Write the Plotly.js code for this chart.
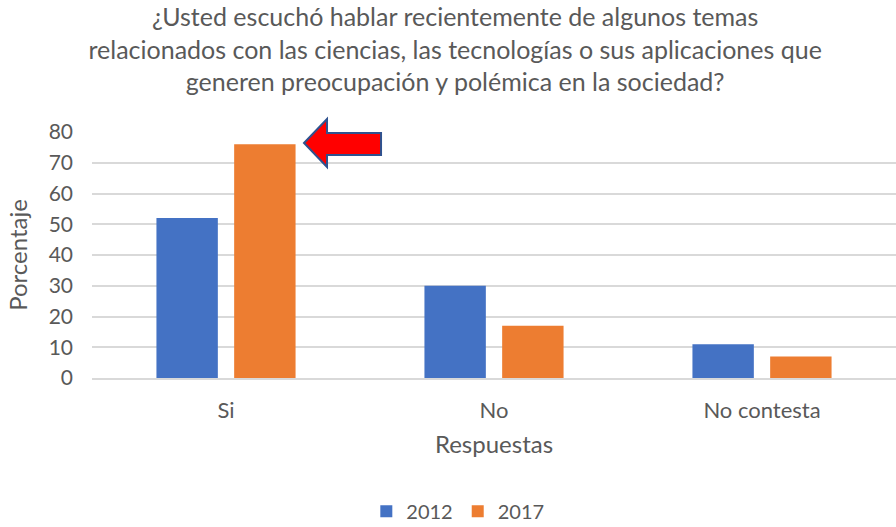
<!DOCTYPE html>
<html>
<head>
<meta charset="utf-8">
<script src="https://cdn.plot.ly/plotly-3.0.1.min.js"></script>
<style>html,body{margin:0;padding:0;background:#fff;}#chart{width:896px;height:527px;}</style>
</head>
<body>
<div id="chart"></div>
<script>
const categories = ["Si", "No", "No contesta"];
const series2012 = [52, 30, 11];
const series2017 = [76, 17, 7];
const seriesNames = ["2012", "2017"];
const yTicks = [0, 10, 20, 30, 40, 50, 60, 70, 80];

const textColor = "#595959";
const font = "Lato, Open Sans, sans-serif";

const traces = [
  {type: "bar", name: seriesNames[0], x: categories, y: series2012, marker: {color: "#4472C4"}, hoverinfo: "x+y"},
  {type: "bar", name: seriesNames[1], x: categories, y: series2017, marker: {color: "#ED7D31"}, hoverinfo: "x+y"}
];

const layout = {
  width: 896, height: 527,
  margin: {l: 92, r: 0, t: 132, b: 149},
  paper_bgcolor: "#fff", plot_bgcolor: "#fff",
  font: {family: font, color: textColor, size: 21},
  title: {
    text: "¿Usted escuchó hablar recientemente de algunos temas<br>relacionados con las ciencias, las tecnologías o sus aplicaciones que<br>generen preocupación y polémica en la sociedad?",
    font: {family: font, size: 25, color: textColor},
    x: 0.508, xanchor: "center", y: 0.950, yanchor: "middle", yref: "container", automargin: false
  },
  barmode: "group",
  bargap: 0.42,
  bargroupgap: 0.21,
  xaxis: {
    title: {text: "Respuestas", font: {size: 24, color: textColor}, standoff: 14},
    tickfont: {size: 22, color: textColor},
    ticklabelstandoff: 12,
    showline: true, linecolor: "#D9D9D9", linewidth: 1.5,
    ticks: "", automargin: false
  },
  yaxis: {
    title: {text: "Porcentaje", font: {size: 24, color: textColor}, standoff: 14},
    range: [0, 80], tickvals: yTicks, ticktext: yTicks.map(String),
    tickfont: {size: 21, color: textColor},
    ticklabelstandoff: 18,
    showgrid: true, gridcolor: "#D9D9D9", gridwidth: 1.5,
    zeroline: false, showline: false, ticks: "", automargin: false
  },
  legend: {
    orientation: "h", x: 0.455, xanchor: "center", yref: "container", y: 0.03, yanchor: "middle",
    font: {size: 20, color: textColor}, traceorder: "normal"
  },
  shapes: [{
    type: "path", xref: "paper", yref: "paper",
    path: "M 0.2637 0.9553 L 0.2923 1.0528 L 0.2923 0.9959 L 0.3595 0.9959 L 0.3595 0.9065 L 0.2923 0.9065 L 0.2923 0.8577 Z",
    fillcolor: "#FF0000", line: {color: "#2F528F", width: 2}
  }]
};

Plotly.newPlot("chart", traces, layout, {displayModeBar: false});
</script>
</body>
</html>
